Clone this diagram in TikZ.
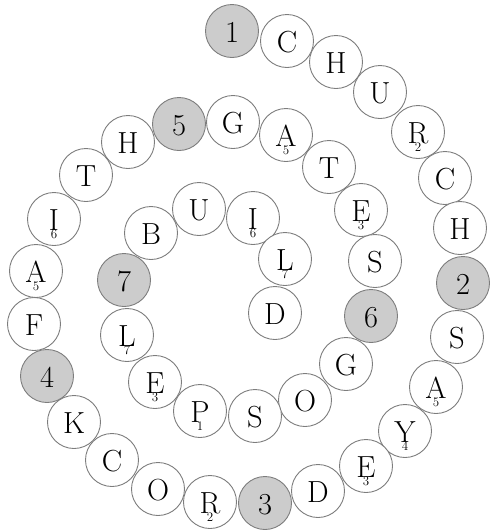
\documentclass[tikz,border=0pt]{standalone}
\begin{document}
\begin{tikzpicture}[x=1pt,y=-1pt,
  ball/.style={circle, minimum size=53pt, inner sep=0pt, text height=23.5pt, text depth=0pt, draw={rgb,255:red,125;green,125;blue,125}, line width=0.9pt, fill=white, font=\fontsize{30.5}{30}\selectfont},
  hit/.style={ball, fill={rgb,255:red,204;green,204;blue,204}},
  sub/.style={label={[font=\fontsize{13}{13}\selectfont, inner sep=0pt, yshift=-15.5pt]center:#1}}]
\useasboundingbox (0,0) rectangle (490,531);
\node[hit] (n1) at (232,31) {1};
\node[ball] (c1) at (287,41) {C};
\node[ball] (c2) at (336,62) {H};
\node[ball] (c3) at (380,92) {U};
\node[ball,sub=2] (c4) at (418,132) {R};
\node[ball] (c5) at (445,178) {C};
\node[ball] (c6) at (460,228) {H};
\node[hit] (n2) at (463,283) {2};
\node[ball] (s1) at (457,337) {S};
\node[ball,sub=5] (s2) at (436,387) {A};
\node[ball,sub=4] (s3) at (405,431) {Y};
\node[ball,sub=3] (s4) at (366,466) {E};
\node[ball] (s5) at (318,491) {D};
\node[hit] (n3) at (265,503) {3};
\node[ball,sub=2] (r1) at (210,502) {R};
\node[ball] (r2) at (158,489) {O};
\node[ball] (r3) at (112,460) {C};
\node[ball] (r4) at (74,422) {K};
\node[hit] (n4) at (47,376) {4};
\node[ball] (f1) at (34,324) {F};
\node[ball,sub=5] (f2) at (36,271) {A};
\node[ball,sub=6] (f3) at (54,219) {I};
\node[ball] (f4) at (86,175) {T};
\node[ball] (f5) at (128,142) {H};
\node[hit] (n5) at (179,124) {5};
\node[ball] (g1) at (233,122) {G};
\node[ball,sub=5] (g2) at (286,135) {A};
\node[ball] (g3) at (329,167) {T};
\node[ball,sub=3] (g4) at (361,210) {E};
\node[ball] (g5) at (375,261) {S};
\node[hit] (n6) at (371,316) {6};
\node[ball] (o1) at (346,364) {G};
\node[ball] (o2) at (305,400) {O};
\node[ball] (o3) at (255,416) {S};
\node[ball,sub=1] (o4) at (200,411) {P};
\node[ball,sub=3] (o5) at (155,382) {E};
\node[ball,sub=7] (o6) at (127,335) {L};
\node[hit] (n7) at (124,280) {7};
\node[ball] (b1) at (151,233) {B};
\node[ball] (b2) at (199,209) {U};
\node[ball,sub=6] (b3) at (253,218) {I};
\node[ball,sub=7] (b4) at (285,259) {L};
\node[ball] (b5) at (275,313) {D};
\end{tikzpicture}
\end{document}
